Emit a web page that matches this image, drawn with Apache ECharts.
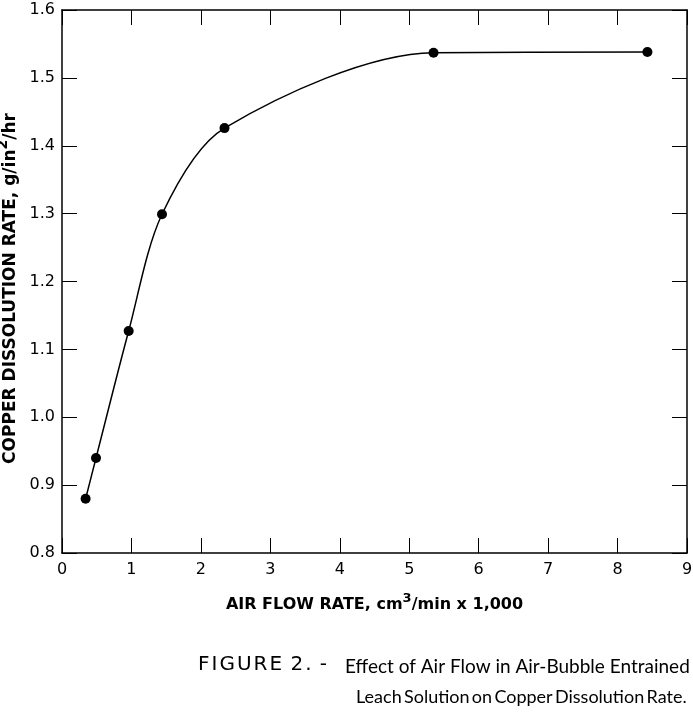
<!DOCTYPE html>
<html>
<head>
<meta charset="utf-8">
<script src="https://cdn.jsdelivr.net/npm/echarts@6/dist/echarts.min.js"></script>
<style>
html,body{margin:0;padding:0;background:#fff;}
#c{width:693px;height:719px;}
</style>
</head>
<body>
<div id="c"></div>
<script>
// Data
const airFlow = [0.34, 0.49, 0.96, 1.44, 2.34, 5.35, 8.43];          // cm3/min x 1,000
const dissolutionRate = [0.88, 0.94, 1.127, 1.299, 1.426, 1.537, 1.538]; // g/in2/hr
const xTicks = [0, 1, 2, 3, 4, 5, 6, 7, 8, 9];
const yTicks = ['0.8', '0.9', '1.0', '1.1', '1.2', '1.3', '1.4', '1.5', '1.6'];
const xTitle = ['AIR FLOW RATE, cm', '3', '/min x 1,000'];
const yTitle = ['COPPER DISSOLUTION RATE, g/in', '2', '/hr'];
const captionHead = ['FIGURE', '2.', '-'];
const captionLines = [
  ['Effect', 'of', 'Air', 'Flow', 'in', 'Air-Bubble', 'Entrained'],
  ['Leach', 'Solution', 'on', 'Copper', 'Dissolution', 'Rate.']
];

const ink = '#000';
const chart = echarts.init(document.getElementById('c'), null, {renderer: 'canvas'});
function titleRich(size) {
  return {
    n: {fontFamily: 'DejaVu Sans', fontWeight: 'bold', fontSize: size, color: ink, verticalAlign: 'bottom'},
    s: {fontFamily: 'DejaVu Sans', fontWeight: 'bold', fontSize: size - 3, color: ink, verticalAlign: 'bottom', padding: [0, 0, 8, 0]}
  };
}
const axisCommon = {
  type: 'value',
  axisLine: {show: true, onZero: false, lineStyle: {color: ink, width: 1.5}},
  axisTick: {show: true, inside: true, length: 15, lineStyle: {color: ink, width: 1}},
  splitLine: {show: false}
};
const data = airFlow.map((x, i) => [x, dissolutionRate[i]]);

function richWords(words) {
  return words.map(w => '{w|' + w + '}').join('{sp| }');
}
function richLetters(words) {
  return words.map(w => w.split('').map(ch => '{l|' + ch + '}').join('')).join('{sp| }');
}
const capFont = 'Lato';

chart.setOption({
  backgroundColor: '#fff',
  animation: false,
  grid: {left: 62, right: 6, top: 10, bottom: 166, outerBoundsMode: 'none', containLabel: false},
  xAxis: [
    Object.assign({}, axisCommon, {
      min: 0, max: 9, interval: 1, position: 'bottom',
      axisLabel: {color: ink, fontSize: 16, fontFamily: 'DejaVu Sans', margin: 9,
        formatter: v => String(xTicks[Math.round(v)])},
      name: '{n|' + xTitle[0] + '}{s|' + xTitle[1] + '}{n|' + xTitle[2] + '}',
      nameLocation: 'middle', nameGap: 39,
      nameTextStyle: {rich: titleRich(16)}
    }),
    Object.assign({}, axisCommon, {
      min: 0, max: 9, interval: 1, position: 'top', axisLabel: {show: false}
    })
  ],
  yAxis: [
    Object.assign({}, axisCommon, {
      min: 0.8, max: 1.6, interval: 0.1, position: 'left',
      axisLabel: {color: ink, fontSize: 16, fontFamily: 'DejaVu Sans', margin: 7,
        formatter: v => yTicks[Math.round((v - 0.8) * 10)]},
      name: '{n|' + yTitle[0] + '}{s|' + yTitle[1] + '}{n|' + yTitle[2] + '}',
      nameLocation: 'middle', nameGap: 36,
      nameTextStyle: {rich: titleRich(17), padding: [0, 14, 0, 0]}
    }),
    Object.assign({}, axisCommon, {
      min: 0.8, max: 1.6, interval: 0.1, position: 'right', axisLabel: {show: false}
    })
  ],
  series: [{
    type: 'line',
    data: data,
    smooth: 0.3,
    symbol: 'circle',
    symbolSize: 10,
    itemStyle: {color: ink},
    lineStyle: {color: ink, width: 1.5}
  }],
  graphic: [
    {type: 'text', left: 198, top: 655, style: {
      text: richLetters(captionHead),
      rich: {
        l: {fontFamily: 'DejaVu Sans', fontSize: 20, fill: ink, padding: [0, 2, 0, 0]},
        sp: {fontFamily: 'DejaVu Sans', fontSize: 20, fill: ink}
      }
    }},
    {type: 'text', left: 345, top: 657, style: {
      text: richWords(captionLines[0]),
      rich: {w: {fontFamily: capFont, fontSize: 19, fill: ink}, sp: {fontFamily: capFont, fontSize: 19, fill: ink}}
    }},
    {type: 'text', left: 356, top: 688, style: {
      text: richWords(captionLines[1]),
      rich: {w: {fontFamily: capFont, fontSize: 18, fill: ink}, sp: {fontFamily: capFont, fontSize: 9, fill: ink}}
    }}
  ]
});
</script>
</body>
</html>
